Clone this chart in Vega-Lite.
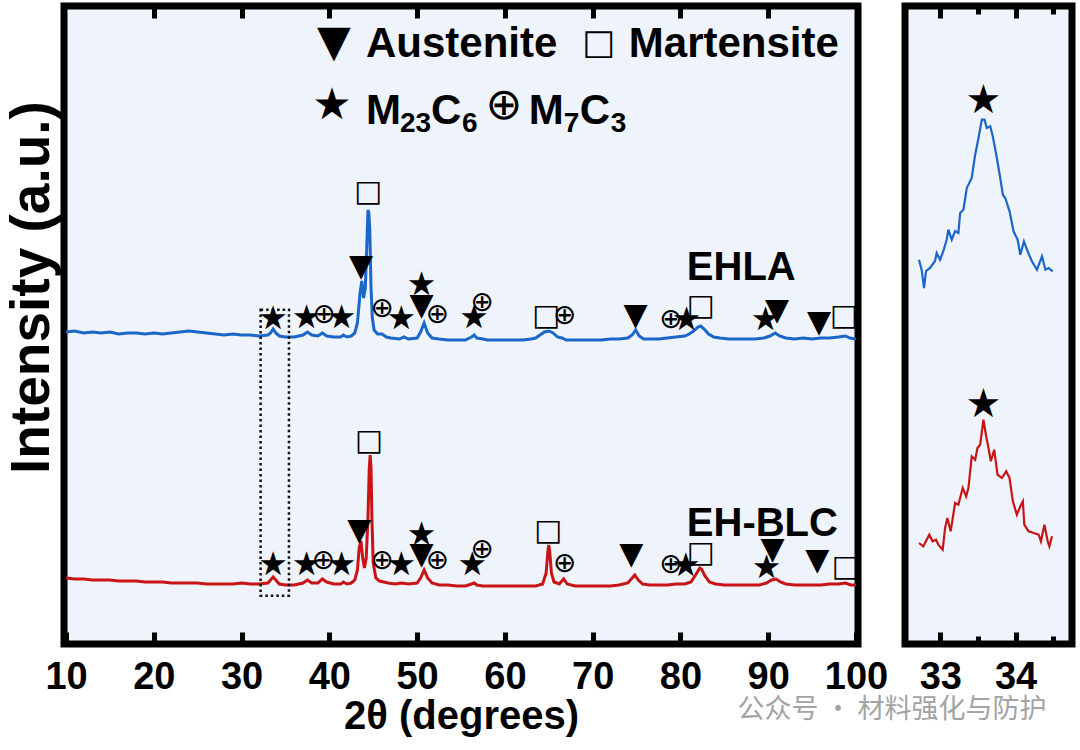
{
"$schema": "https://vega.github.io/schema/vega-lite/v6.json",
"background": "white",
"padding": {"left": 0, "top": 0, "right": 0, "bottom": 0},
"config": {
  "view": {"stroke": "black", "strokeWidth": 7, "fill": "#eff3fb"},
  "font": "Liberation Sans",
  "axis": {"labelFont": "Liberation Sans", "labelFontWeight": "bold", "labelFontSize": 38, "labelColor": "black", "titleFont": "Liberation Sans", "titleFontWeight": "bold", "titleFontSize": 40, "titleColor": "black", "grid": false, "domain": false, "tickColor": "black", "tickWidth": 5, "labelOverlap": false, "labelFlush": false}
},
"title": {"text": "公众号 · 材料强化与防护", "orient": "bottom", "anchor": "end", "font": "Noto Sans CJK SC", "fontSize": 27, "fontWeight": "normal", "color": "#a3a3a3", "offset": -43, "dx": -29},
"datasets": {
  "curves": [
{"s":"EHLA","x":10,"y":312},{"s":"EHLA","x":11,"y":313},{"s":"EHLA","x":12,"y":311},{"s":"EHLA","x":13,"y":312},{"s":"EHLA","x":14,"y":311},{"s":"EHLA","x":15,"y":312},{"s":"EHLA","x":16,"y":310},{"s":"EHLA","x":17,"y":311},{"s":"EHLA","x":18,"y":311},{"s":"EHLA","x":19,"y":310},{"s":"EHLA","x":20,"y":311},{"s":"EHLA","x":21,"y":310},{"s":"EHLA","x":22,"y":311},{"s":"EHLA","x":23,"y":312},{"s":"EHLA","x":24,"y":313},{"s":"EHLA","x":25,"y":312},{"s":"EHLA","x":26,"y":311},{"s":"EHLA","x":27,"y":310},{"s":"EHLA","x":28,"y":309},{"s":"EHLA","x":29,"y":310},{"s":"EHLA","x":30,"y":309},{"s":"EHLA","x":31,"y":309},{"s":"EHLA","x":32,"y":308},{"s":"EHLA","x":33,"y":309},{"s":"EHLA","x":33.3,"y":311},{"s":"EHLA","x":33.6,"y":315},{"s":"EHLA","x":33.9,"y":311},{"s":"EHLA","x":34.3,"y":308},{"s":"EHLA","x":35,"y":307},{"s":"EHLA","x":36,"y":307},{"s":"EHLA","x":37,"y":309},{"s":"EHLA","x":37.5,"y":312},{"s":"EHLA","x":38,"y":309},{"s":"EHLA","x":38.7,"y":308},{"s":"EHLA","x":39.2,"y":311},{"s":"EHLA","x":39.7,"y":308},{"s":"EHLA","x":40.5,"y":307},{"s":"EHLA","x":41.3,"y":307},{"s":"EHLA","x":41.6,"y":309},{"s":"EHLA","x":42,"y":307},{"s":"EHLA","x":42.5,"y":308},{"s":"EHLA","x":42.9,"y":311},{"s":"EHLA","x":43.2,"y":321},{"s":"EHLA","x":43.5,"y":351},{"s":"EHLA","x":43.7,"y":363},{"s":"EHLA","x":43.9,"y":346},{"s":"EHLA","x":44.1,"y":356},{"s":"EHLA","x":44.3,"y":406},{"s":"EHLA","x":44.4,"y":434},{"s":"EHLA","x":44.5,"y":431},{"s":"EHLA","x":44.6,"y":416},{"s":"EHLA","x":44.75,"y":356},{"s":"EHLA","x":44.9,"y":326},{"s":"EHLA","x":45.1,"y":314},{"s":"EHLA","x":45.5,"y":310},{"s":"EHLA","x":46,"y":310},{"s":"EHLA","x":46.5,"y":307},{"s":"EHLA","x":47,"y":306},{"s":"EHLA","x":48,"y":305},{"s":"EHLA","x":48.5,"y":307},{"s":"EHLA","x":49,"y":305},{"s":"EHLA","x":50,"y":306},{"s":"EHLA","x":50.4,"y":312},{"s":"EHLA","x":50.8,"y":321},{"s":"EHLA","x":51.2,"y":311},{"s":"EHLA","x":51.7,"y":306},{"s":"EHLA","x":52.5,"y":305},{"s":"EHLA","x":53.5,"y":304},{"s":"EHLA","x":54.5,"y":304},{"s":"EHLA","x":55.5,"y":304},{"s":"EHLA","x":56.2,"y":307},{"s":"EHLA","x":56.5,"y":309},{"s":"EHLA","x":56.8,"y":306},{"s":"EHLA","x":57.5,"y":305},{"s":"EHLA","x":58,"y":304},{"s":"EHLA","x":59,"y":304},{"s":"EHLA","x":60,"y":304},{"s":"EHLA","x":61,"y":304},{"s":"EHLA","x":62,"y":304},{"s":"EHLA","x":63,"y":305},{"s":"EHLA","x":63.5,"y":306},{"s":"EHLA","x":64,"y":309},{"s":"EHLA","x":64.5,"y":312},{"s":"EHLA","x":65,"y":313},{"s":"EHLA","x":65.5,"y":311},{"s":"EHLA","x":66,"y":307},{"s":"EHLA","x":66.5,"y":306},{"s":"EHLA","x":67,"y":304},{"s":"EHLA","x":68,"y":304},{"s":"EHLA","x":69,"y":304},{"s":"EHLA","x":70,"y":304},{"s":"EHLA","x":71,"y":304},{"s":"EHLA","x":72,"y":305},{"s":"EHLA","x":73,"y":305},{"s":"EHLA","x":74,"y":306},{"s":"EHLA","x":74.5,"y":309},{"s":"EHLA","x":74.9,"y":314},{"s":"EHLA","x":75.3,"y":308},{"s":"EHLA","x":75.8,"y":305},{"s":"EHLA","x":76.5,"y":305},{"s":"EHLA","x":77.5,"y":305},{"s":"EHLA","x":78.5,"y":306},{"s":"EHLA","x":79.5,"y":307},{"s":"EHLA","x":80.5,"y":308},{"s":"EHLA","x":81,"y":310},{"s":"EHLA","x":81.5,"y":313},{"s":"EHLA","x":82,"y":317},{"s":"EHLA","x":82.3,"y":318},{"s":"EHLA","x":82.7,"y":315},{"s":"EHLA","x":83.2,"y":310},{"s":"EHLA","x":83.8,"y":307},{"s":"EHLA","x":84.5,"y":306},{"s":"EHLA","x":85.5,"y":305},{"s":"EHLA","x":86.5,"y":305},{"s":"EHLA","x":87.5,"y":305},{"s":"EHLA","x":88.5,"y":305},{"s":"EHLA","x":89.5,"y":306},{"s":"EHLA","x":90.2,"y":308},{"s":"EHLA","x":90.8,"y":311},{"s":"EHLA","x":91.3,"y":308},{"s":"EHLA","x":92,"y":306},{"s":"EHLA","x":93,"y":305},{"s":"EHLA","x":94,"y":306},{"s":"EHLA","x":95,"y":305},{"s":"EHLA","x":96,"y":306},{"s":"EHLA","x":97,"y":306},{"s":"EHLA","x":98,"y":307},{"s":"EHLA","x":98.8,"y":308},{"s":"EHLA","x":99.3,"y":306},{"s":"EHLA","x":100,"y":305},
{"s":"EH-BLC","x":10,"y":66},{"s":"EH-BLC","x":11,"y":65},{"s":"EH-BLC","x":12,"y":65},{"s":"EH-BLC","x":13,"y":64},{"s":"EH-BLC","x":14,"y":64},{"s":"EH-BLC","x":15,"y":64},{"s":"EH-BLC","x":16,"y":63},{"s":"EH-BLC","x":17,"y":63},{"s":"EH-BLC","x":18,"y":63},{"s":"EH-BLC","x":19,"y":62},{"s":"EH-BLC","x":20,"y":62},{"s":"EH-BLC","x":21,"y":62},{"s":"EH-BLC","x":22,"y":61},{"s":"EH-BLC","x":23,"y":61},{"s":"EH-BLC","x":24,"y":61},{"s":"EH-BLC","x":25,"y":61},{"s":"EH-BLC","x":26,"y":60},{"s":"EH-BLC","x":27,"y":60},{"s":"EH-BLC","x":28,"y":60},{"s":"EH-BLC","x":29,"y":60},{"s":"EH-BLC","x":30,"y":61},{"s":"EH-BLC","x":31,"y":60},{"s":"EH-BLC","x":32,"y":60},{"s":"EH-BLC","x":33,"y":61},{"s":"EH-BLC","x":33.3,"y":64},{"s":"EH-BLC","x":33.6,"y":67},{"s":"EH-BLC","x":33.9,"y":64},{"s":"EH-BLC","x":34.3,"y":60},{"s":"EH-BLC","x":35,"y":59},{"s":"EH-BLC","x":36,"y":59},{"s":"EH-BLC","x":37,"y":61},{"s":"EH-BLC","x":37.5,"y":64},{"s":"EH-BLC","x":38,"y":61},{"s":"EH-BLC","x":38.7,"y":61},{"s":"EH-BLC","x":39.2,"y":65},{"s":"EH-BLC","x":39.7,"y":62},{"s":"EH-BLC","x":40.5,"y":60},{"s":"EH-BLC","x":41.3,"y":60},{"s":"EH-BLC","x":41.6,"y":62},{"s":"EH-BLC","x":42,"y":60},{"s":"EH-BLC","x":42.5,"y":61},{"s":"EH-BLC","x":42.9,"y":64},{"s":"EH-BLC","x":43.2,"y":74},{"s":"EH-BLC","x":43.4,"y":96},{"s":"EH-BLC","x":43.6,"y":103},{"s":"EH-BLC","x":43.8,"y":86},{"s":"EH-BLC","x":44.0,"y":76},{"s":"EH-BLC","x":44.2,"y":86},{"s":"EH-BLC","x":44.4,"y":126},{"s":"EH-BLC","x":44.55,"y":176},{"s":"EH-BLC","x":44.65,"y":189},{"s":"EH-BLC","x":44.75,"y":176},{"s":"EH-BLC","x":44.85,"y":126},{"s":"EH-BLC","x":45.0,"y":81},{"s":"EH-BLC","x":45.3,"y":66},{"s":"EH-BLC","x":45.7,"y":63},{"s":"EH-BLC","x":46.2,"y":62},{"s":"EH-BLC","x":46.7,"y":61},{"s":"EH-BLC","x":47.5,"y":60},{"s":"EH-BLC","x":48.2,"y":61},{"s":"EH-BLC","x":49,"y":60},{"s":"EH-BLC","x":50,"y":61},{"s":"EH-BLC","x":50.4,"y":66},{"s":"EH-BLC","x":50.8,"y":74},{"s":"EH-BLC","x":51.2,"y":66},{"s":"EH-BLC","x":51.7,"y":61},{"s":"EH-BLC","x":52.5,"y":59},{"s":"EH-BLC","x":53.5,"y":59},{"s":"EH-BLC","x":54.5,"y":58},{"s":"EH-BLC","x":55.5,"y":58},{"s":"EH-BLC","x":56.2,"y":60},{"s":"EH-BLC","x":56.5,"y":61},{"s":"EH-BLC","x":56.8,"y":59},{"s":"EH-BLC","x":57.5,"y":58},{"s":"EH-BLC","x":58.5,"y":58},{"s":"EH-BLC","x":59.5,"y":58},{"s":"EH-BLC","x":60.5,"y":58},{"s":"EH-BLC","x":61.5,"y":58},{"s":"EH-BLC","x":62.5,"y":58},{"s":"EH-BLC","x":63.5,"y":58},{"s":"EH-BLC","x":64.3,"y":60},{"s":"EH-BLC","x":64.7,"y":71},{"s":"EH-BLC","x":64.9,"y":93},{"s":"EH-BLC","x":65.0,"y":99},{"s":"EH-BLC","x":65.1,"y":93},{"s":"EH-BLC","x":65.3,"y":71},{"s":"EH-BLC","x":65.6,"y":62},{"s":"EH-BLC","x":66.2,"y":60},{"s":"EH-BLC","x":66.7,"y":65},{"s":"EH-BLC","x":67.1,"y":60},{"s":"EH-BLC","x":68,"y":58},{"s":"EH-BLC","x":69,"y":58},{"s":"EH-BLC","x":70,"y":58},{"s":"EH-BLC","x":71,"y":58},{"s":"EH-BLC","x":72,"y":58},{"s":"EH-BLC","x":73,"y":59},{"s":"EH-BLC","x":74,"y":61},{"s":"EH-BLC","x":74.5,"y":66},{"s":"EH-BLC","x":74.8,"y":69},{"s":"EH-BLC","x":75.2,"y":64},{"s":"EH-BLC","x":75.7,"y":60},{"s":"EH-BLC","x":76.5,"y":59},{"s":"EH-BLC","x":77.5,"y":59},{"s":"EH-BLC","x":78.5,"y":59},{"s":"EH-BLC","x":79.5,"y":60},{"s":"EH-BLC","x":80.5,"y":60},{"s":"EH-BLC","x":81.2,"y":62},{"s":"EH-BLC","x":81.8,"y":70},{"s":"EH-BLC","x":82.2,"y":76},{"s":"EH-BLC","x":82.4,"y":75},{"s":"EH-BLC","x":82.8,"y":68},{"s":"EH-BLC","x":83.3,"y":62},{"s":"EH-BLC","x":84,"y":60},{"s":"EH-BLC","x":85,"y":59},{"s":"EH-BLC","x":86,"y":59},{"s":"EH-BLC","x":87,"y":59},{"s":"EH-BLC","x":88,"y":59},{"s":"EH-BLC","x":89,"y":59},{"s":"EH-BLC","x":89.8,"y":61},{"s":"EH-BLC","x":90.4,"y":64},{"s":"EH-BLC","x":90.9,"y":65},{"s":"EH-BLC","x":91.4,"y":62},{"s":"EH-BLC","x":92,"y":60},{"s":"EH-BLC","x":93,"y":59},{"s":"EH-BLC","x":94,"y":59},{"s":"EH-BLC","x":95,"y":59},{"s":"EH-BLC","x":96,"y":59},{"s":"EH-BLC","x":97,"y":60},{"s":"EH-BLC","x":98,"y":60},{"s":"EH-BLC","x":98.8,"y":61},{"s":"EH-BLC","x":99.4,"y":59},{"s":"EH-BLC","x":100,"y":59}
  ],
  "marks": [
{"s":"EHLA","x":33.6,"y":325,"m":"★"},{"s":"EHLA","x":37.4,"y":326,"m":"★"},{"s":"EHLA","x":39.4,"y":329,"m":"⊕"},{"s":"EHLA","x":41.4,"y":326,"m":"★"},{"s":"EHLA","x":43.6,"y":377,"m":"▼"},{"s":"EHLA","x":44.4,"y":452,"m":"□"},{"s":"EHLA","x":46.0,"y":335,"m":"⊕"},{"s":"EHLA","x":48.2,"y":325,"m":"★"},{"s":"EHLA","x":50.5,"y":359,"m":"★"},{"s":"EHLA","x":50.5,"y":338,"m":"▼"},{"s":"EHLA","x":52.3,"y":329,"m":"⊕"},{"s":"EHLA","x":56.5,"y":326,"m":"★"},{"s":"EHLA","x":57.4,"y":341,"m":"⊕"},{"s":"EHLA","x":64.7,"y":328,"m":"□"},{"s":"EHLA","x":66.8,"y":328,"m":"⊕"},{"s":"EHLA","x":74.9,"y":328,"m":"▼"},{"s":"EHLA","x":78.9,"y":324,"m":"⊕"},{"s":"EHLA","x":80.7,"y":324,"m":"★"},{"s":"EHLA","x":82.3,"y":338,"m":"□"},{"s":"EHLA","x":89.7,"y":324,"m":"★"},{"s":"EHLA","x":91.0,"y":333,"m":"▼"},{"s":"EHLA","x":95.8,"y":321,"m":"▼"},{"s":"EHLA","x":98.6,"y":328,"m":"□"},
{"s":"EH-BLC","x":33.6,"y":79,"m":"★"},{"s":"EH-BLC","x":37.4,"y":79,"m":"★"},{"s":"EH-BLC","x":39.3,"y":83,"m":"⊕"},{"s":"EH-BLC","x":41.4,"y":79,"m":"★"},{"s":"EH-BLC","x":43.4,"y":113,"m":"▼"},{"s":"EH-BLC","x":44.5,"y":203,"m":"□"},{"s":"EH-BLC","x":46.0,"y":83,"m":"⊕"},{"s":"EH-BLC","x":48.2,"y":79,"m":"★"},{"s":"EH-BLC","x":50.5,"y":109,"m":"★"},{"s":"EH-BLC","x":50.5,"y":89,"m":"▼"},{"s":"EH-BLC","x":52.3,"y":83,"m":"⊕"},{"s":"EH-BLC","x":56.3,"y":79,"m":"★"},{"s":"EH-BLC","x":57.4,"y":94,"m":"⊕"},{"s":"EH-BLC","x":64.9,"y":113,"m":"□"},{"s":"EH-BLC","x":66.8,"y":80,"m":"⊕"},{"s":"EH-BLC","x":74.4,"y":89,"m":"▼"},{"s":"EH-BLC","x":78.9,"y":79,"m":"⊕"},{"s":"EH-BLC","x":80.6,"y":78,"m":"★"},{"s":"EH-BLC","x":82.3,"y":91,"m":"□"},{"s":"EH-BLC","x":89.8,"y":76,"m":"★"},{"s":"EH-BLC","x":90.5,"y":94,"m":"▼"},{"s":"EH-BLC","x":95.6,"y":83,"m":"▼"},{"s":"EH-BLC","x":98.8,"y":77,"m":"□"}
  ],
  "box": [{"x1": 32.17, "x2": 35.4, "y1": 48.3, "y2": 334.3}],
  "names": [{"t": "EHLA", "x": 80.73, "y": 364}, {"t": "EH-BLC", "x": 80.73, "y": 108}],
  "legsym": [{"m":"▼","x":40.52,"y":601},{"m":"□","x":70.71,"y":601},{"m":"★","x":40.3,"y":538},{"m":"⊕","x":59.89,"y":538}],
  "legend": [
{"t":"Austenite","x":44.17,"y":587,"k":"big"},{"t":"Martensite","x":74.12,"y":587,"k":"big"},
{"t":"M","x":44.17,"y":520,"k":"big"},{"t":"23","x":48.04,"y":512,"k":"sub"},{"t":"C","x":51.57,"y":520,"k":"big"},{"t":"6","x":55.1,"y":512,"k":"sub"},
{"t":"M","x":62.73,"y":520,"k":"big"},{"t":"7","x":66.72,"y":512,"k":"sub"},{"t":"C","x":68.54,"y":520,"k":"big"},{"t":"3","x":72.07,"y":512,"k":"sub"}
  ],
  "zoom": [
{"s":"EHLA","x":32.716,"y":384.3},{"s":"EHLA","x":32.751,"y":374.3},{"s":"EHLA","x":32.783,"y":356},{"s":"EHLA","x":32.809,"y":373},{"s":"EHLA","x":32.863,"y":376},{"s":"EHLA","x":32.929,"y":383},{"s":"EHLA","x":32.951,"y":391},{"s":"EHLA","x":32.996,"y":384.3},{"s":"EHLA","x":33.04,"y":393},{"s":"EHLA","x":33.084,"y":404.3},{"s":"EHLA","x":33.107,"y":414.3},{"s":"EHLA","x":33.151,"y":404.3},{"s":"EHLA","x":33.196,"y":413},{"s":"EHLA","x":33.24,"y":411},{"s":"EHLA","x":33.263,"y":431},{"s":"EHLA","x":33.307,"y":434.3},{"s":"EHLA","x":33.351,"y":456},{"s":"EHLA","x":33.417,"y":466},{"s":"EHLA","x":33.463,"y":489.3},{"s":"EHLA","x":33.507,"y":506},{"s":"EHLA","x":33.551,"y":524.3},{"s":"EHLA","x":33.587,"y":524.3},{"s":"EHLA","x":33.617,"y":516},{"s":"EHLA","x":33.663,"y":517.7},{"s":"EHLA","x":33.697,"y":507.7},{"s":"EHLA","x":33.751,"y":486},{"s":"EHLA","x":33.796,"y":466},{"s":"EHLA","x":33.831,"y":449.3},{"s":"EHLA","x":33.863,"y":446},{"s":"EHLA","x":33.92,"y":432.7},{"s":"EHLA","x":33.973,"y":412.7},{"s":"EHLA","x":34.027,"y":404.3},{"s":"EHLA","x":34.063,"y":389.3},{"s":"EHLA","x":34.111,"y":402.7},{"s":"EHLA","x":34.16,"y":392.7},{"s":"EHLA","x":34.217,"y":382.7},{"s":"EHLA","x":34.284,"y":374.3},{"s":"EHLA","x":34.351,"y":387.7},{"s":"EHLA","x":34.396,"y":374.3},{"s":"EHLA","x":34.44,"y":376},{"s":"EHLA","x":34.493,"y":372.7},
{"s":"EH-BLC","x":32.716,"y":101},{"s":"EH-BLC","x":32.773,"y":97.7},{"s":"EH-BLC","x":32.853,"y":109.3},{"s":"EH-BLC","x":32.897,"y":102.7},{"s":"EH-BLC","x":32.943,"y":104.3},{"s":"EH-BLC","x":32.973,"y":99.3},{"s":"EH-BLC","x":33.031,"y":94.3},{"s":"EH-BLC","x":33.063,"y":116},{"s":"EH-BLC","x":33.093,"y":126},{"s":"EH-BLC","x":33.137,"y":112.7},{"s":"EH-BLC","x":33.196,"y":141},{"s":"EH-BLC","x":33.24,"y":139.3},{"s":"EH-BLC","x":33.297,"y":156},{"s":"EH-BLC","x":33.343,"y":147.7},{"s":"EH-BLC","x":33.373,"y":156},{"s":"EH-BLC","x":33.417,"y":187.7},{"s":"EH-BLC","x":33.463,"y":184.3},{"s":"EH-BLC","x":33.493,"y":196},{"s":"EH-BLC","x":33.529,"y":199.3},{"s":"EH-BLC","x":33.573,"y":224.3},{"s":"EH-BLC","x":33.609,"y":207.7},{"s":"EH-BLC","x":33.64,"y":196},{"s":"EH-BLC","x":33.671,"y":182.7},{"s":"EH-BLC","x":33.716,"y":194.3},{"s":"EH-BLC","x":33.76,"y":169.3},{"s":"EH-BLC","x":33.817,"y":166},{"s":"EH-BLC","x":33.876,"y":172.7},{"s":"EH-BLC","x":33.92,"y":166},{"s":"EH-BLC","x":33.964,"y":142.7},{"s":"EH-BLC","x":34.017,"y":129.3},{"s":"EH-BLC","x":34.063,"y":137.7},{"s":"EH-BLC","x":34.097,"y":142.7},{"s":"EH-BLC","x":34.116,"y":119.3},{"s":"EH-BLC","x":34.173,"y":112.7},{"s":"EH-BLC","x":34.24,"y":111},{"s":"EH-BLC","x":34.307,"y":109.3},{"s":"EH-BLC","x":34.337,"y":102.7},{"s":"EH-BLC","x":34.383,"y":119.3},{"s":"EH-BLC","x":34.427,"y":102.7},{"s":"EH-BLC","x":34.449,"y":97.7},{"s":"EH-BLC","x":34.484,"y":107.7}
  ],
  "zoomstars": [{"s":"EHLA","x":33.573,"y":542.7,"m":"★"},{"s":"EH-BLC","x":33.573,"y":239.3,"m":"★"}]
},
"spacing": 47,
"bounds": "flush",
"hconcat": [
  {
    "width": 794,
    "height": 638,
    "resolve": {"axis": {"x": "independent"}},
    "layer": [
      {
        "data": {"name": "curves"},
        "mark": {"type": "line", "strokeWidth": 3, "interpolate": "linear"},
        "encoding": {
          "x": {"field": "x", "type": "quantitative", "scale": {"domain": [9.77, 100.23], "nice": false, "zero": false},
                "axis": {"orient": "bottom", "values": [10,20,30,40,50,60,70,80,90,100], "tickSize": -12, "labelPadding": 26, "title": "2θ (degrees)", "titlePadding": 0}},
          "y": {"field": "y", "type": "quantitative", "scale": {"domain": [0, 638], "nice": false, "zero": false},
                "axis": {"title": "Intensity (a.u.)", "labels": false, "ticks": false, "titleX": -33, "titleY": 281, "titleAngle": 270, "titleAlign": "center", "titleBaseline": "middle", "titleFontSize": 55}},
          "color": {"field": "s", "type": "nominal", "scale": {"domain": ["EHLA", "EH-BLC"], "range": ["#1b66c9", "#c81414"]}, "legend": null},
          "detail": {"field": "s"}
        }
      },
      {
        "data": {"name": "box"},
        "mark": {"type": "rect", "fill": null, "filled": false, "stroke": "#111111", "strokeWidth": 2.5, "strokeDash": [2.5, 3]},
        "encoding": {
          "x": {"field": "x1", "type": "quantitative", "axis": {"orient": "top", "values": [20,30,40,50,60,70,80,90], "labels": false, "title": null, "tickSize": -12}},
          "x2": {"field": "x2"},
          "y": {"field": "y1", "type": "quantitative"},
          "y2": {"field": "y2"}
        }
      },
      {
        "data": {"name": "marks"},
        "mark": {"type": "text", "font": "DejaVu Sans", "align": "center", "baseline": "middle", "color": "black"},
        "encoding": {
          "x": {"field": "x", "type": "quantitative", "axis": null},
          "y": {"field": "y", "type": "quantitative"},
          "text": {"field": "m"},
          "size": {"field": "m", "type": "nominal", "scale": {"domain": ["★", "▼", "□", "⊕"], "range": [33, 28, 25, 30]}, "legend": null}
        }
      },
      {
        "data": {"name": "legsym"},
        "transform": [{"filter": "datum.m === '▼'"}],
        "mark": {"type": "text", "font": "DejaVu Sans", "fontSize": 44, "align": "center", "baseline": "middle", "color": "black"},
        "encoding": {
          "x": {"field": "x", "type": "quantitative", "axis": null},
          "y": {"field": "y", "type": "quantitative"},
          "text": {"field": "m"}
        }
      },
      {
        "data": {"name": "legsym"},
        "transform": [{"filter": "datum.m === '□'"}],
        "mark": {"type": "text", "font": "DejaVu Sans", "fontSize": 35, "align": "center", "baseline": "middle", "color": "black"},
        "encoding": {
          "x": {"field": "x", "type": "quantitative", "axis": null},
          "y": {"field": "y", "type": "quantitative"},
          "text": {"field": "m"}
        }
      },
      {
        "data": {"name": "legsym"},
        "transform": [{"filter": "datum.m === '★' || datum.m === '⊕'"}],
        "mark": {"type": "text", "font": "DejaVu Sans", "fontSize": 44, "align": "center", "baseline": "middle", "color": "black"},
        "encoding": {
          "x": {"field": "x", "type": "quantitative", "axis": null},
          "y": {"field": "y", "type": "quantitative"},
          "text": {"field": "m"}
        }
      },
      {
        "data": {"name": "names"},
        "mark": {"type": "text", "font": "Liberation Sans", "fontWeight": "bold", "fontSize": 40, "align": "left", "baseline": "alphabetic", "color": "black"},
        "encoding": {
          "x": {"field": "x", "type": "quantitative", "axis": null},
          "y": {"field": "y", "type": "quantitative"},
          "text": {"field": "t"}
        }
      },
      {
        "data": {"name": "legend"},
        "transform": [{"filter": "datum.k === 'big'"}],
        "mark": {"type": "text", "font": "Liberation Sans", "fontWeight": "bold", "fontSize": 42, "align": "left", "baseline": "alphabetic", "color": "black"},
        "encoding": {
          "x": {"field": "x", "type": "quantitative", "axis": null},
          "y": {"field": "y", "type": "quantitative"},
          "text": {"field": "t"}
        }
      },
      {
        "data": {"name": "legend"},
        "transform": [{"filter": "datum.k === 'sub'"}],
        "mark": {"type": "text", "font": "Liberation Sans", "fontWeight": "bold", "fontSize": 28, "align": "left", "baseline": "alphabetic", "color": "black"},
        "encoding": {
          "x": {"field": "x", "type": "quantitative", "axis": null},
          "y": {"field": "y", "type": "quantitative"},
          "text": {"field": "t"}
        }
      }
    ]
  },
  {
    "width": 167,
    "height": 638,
    "resolve": {"axis": {"x": "independent"}},
    "layer": [
      {
        "data": {"name": "zoom"},
        "mark": {"type": "line", "strokeWidth": 2.2},
        "encoding": {
          "x": {"field": "x", "type": "quantitative", "scale": {"domain": [32.53, 34.75], "nice": false, "zero": false},
                "axis": {"orient": "bottom", "values": [33, 33.5, 34, 34.5], "labelExpr": "datum.value === 33 ? '33' : (datum.value === 34 ? '34' : '')", "tickSize": {"condition": {"test": "datum.value % 1 === 0", "value": -12}, "value": -8}, "labelPadding": 26, "title": null}},
          "y": {"field": "y", "type": "quantitative", "scale": {"domain": [0, 638], "nice": false, "zero": false}, "axis": null},
          "color": {"field": "s", "type": "nominal", "scale": {"domain": ["EHLA", "EH-BLC"], "range": ["#2070d2", "#dc4848"]}, "legend": null},
          "detail": {"field": "s"}
        }
      },
      {
        "data": {"name": "zoomstars"},
        "mark": {"type": "text", "font": "DejaVu Sans", "fontSize": 40, "align": "center", "baseline": "middle", "color": "black"},
        "encoding": {
          "x": {"field": "x", "type": "quantitative", "axis": {"orient": "top", "values": [33, 33.5, 34, 34.5], "labels": false, "title": null, "tickSize": {"condition": {"test": "datum.value % 1 === 0", "value": -12}, "value": -8}}},
          "y": {"field": "y", "type": "quantitative", "axis": null},
          "text": {"field": "m"}
        }
      }
    ]
  }
]
}
